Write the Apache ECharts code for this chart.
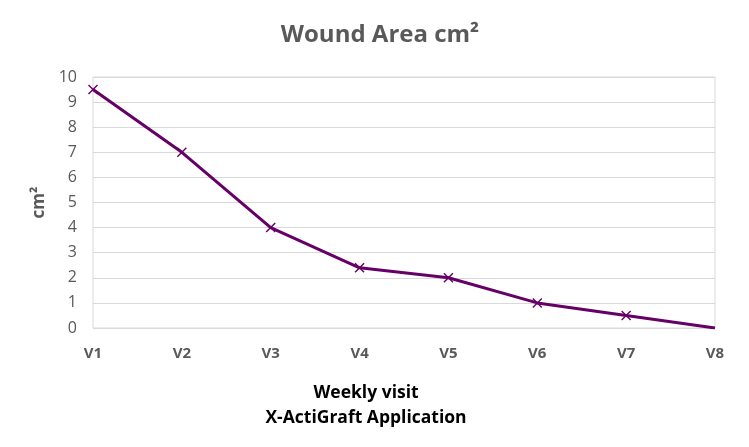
<!DOCTYPE html>
<html><head><meta charset="utf-8">
<script src="https://cdn.jsdelivr.net/npm/echarts@6/dist/echarts.min.js"></script>
<style>html,body{margin:0;padding:0;background:#fff}#c{width:749px;height:447px}</style>
</head><body><div id="c"></div>
<script>
var categories = ['V1','V2','V3','V4','V5','V6','V7','V8'];
var woundArea = [9.5, 7, 4, 2.4, 2, 1, 0.5, 0];
var yTicks = [0,1,2,3,4,5,6,7,8,9,10];

var font = '"Open Sans", "Liberation Sans", sans-serif';
var xMark = 'path://M0,1L1,0L5,4L9,0L10,1L6,5L10,9L9,10L5,6L1,10L0,9L4,5Z';
var seriesData = woundArea.map(function(v, i){
  return i === woundArea.length - 1 ? {value: v, symbol: 'none'} : v;
});
var chart = echarts.init(document.getElementById('c'));
chart.setOption({
  animation: false,
  backgroundColor: '#fff',
  title: [
    {text: 'Wound Area cm²', left: 375, top: 18, textAlign: 'center',
     textStyle: {fontFamily: font, fontSize: 24, fontWeight: 'bold', color: '#595959'}},
    {text: 'Weekly visit\nX-ActiGraft Application', left: 361, top: 376, textAlign: 'center',
     textStyle: {fontFamily: font, fontSize: 17.5, fontWeight: 'bold', color: '#000', lineHeight: 25}}
  ],
  grid: {left: 93, right: 34, top: 77, bottom: 119, show: true, borderColor: '#d9d9d9', borderWidth: 1},
  xAxis: {
    type: 'category', data: categories, boundaryGap: false,
    axisLine: {show: false}, axisTick: {show: false},
    axisLabel: {fontFamily: font, fontSize: 15, fontWeight: 'bold', color: '#595959', margin: 18},
    splitLine: {show: false}
  },
  yAxis: {
    type: 'value', min: yTicks[0], max: yTicks[yTicks.length-1], interval: 1,
    name: 'cm²', nameLocation: 'middle', nameGap: 41, nameRotate: 90,
    nameTextStyle: {fontFamily: font, fontSize: 17, fontWeight: 'bold', color: '#595959'},
    axisLine: {show: false}, axisTick: {show: false},
    axisLabel: {fontFamily: font, fontSize: 16, color: '#595959', margin: 16},
    splitLine: {lineStyle: {color: '#d9d9d9', width: 1}}
  },
  series: [{
    type: 'line', data: seriesData,
    symbol: xMark, symbolSize: 10, showSymbol: true,
    lineStyle: {color: '#660066', width: 3},
    itemStyle: {color: '#660066'}
  }]
});
</script></body></html>
